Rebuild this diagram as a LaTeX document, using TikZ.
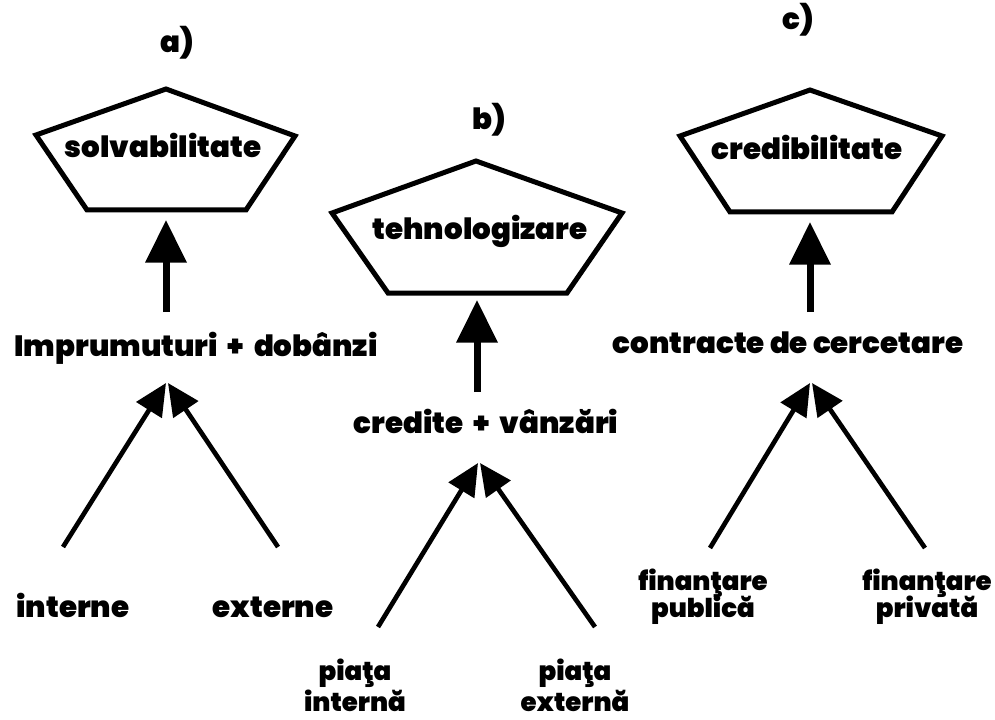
\documentclass[tikz,border=0pt]{standalone}
\usepackage{fontspec}
\setmainfont{Poppins}[BoldFont={Poppins Black}]
\usetikzlibrary{arrows.meta,positioning}
\tikzset{
  lbl/.style={font=\fontsize{22}{24}\selectfont\bfseries, inner sep=0pt, anchor=base, align=center},
  lbltwo/.style={lbl, font=\fontsize{19.5}{24}\selectfont\bfseries},
  pent/.style={line width=3.75pt, line join=miter},
  bigarrow/.style={line width=5.25pt, -{Triangle[width=30pt,length=32pt]}},
  varrow/.style={line width=3.5pt, -{Triangle[width=22pt,length=24pt]}},
}

\begin{document}
\begin{tikzpicture}[x=0.75pt,y=-0.75pt]
\useasboundingbox (0,0) rectangle (995,720);
\begin{scope}  % Case a)
\coordinate (A0) at (166,89);
\coordinate (A1) at (295,136);
\coordinate (A2) at (246,210);
\coordinate (A3) at (87,210);
\coordinate (A4) at (36,135);
\coordinate (AT) at (166,220);
\coordinate (AS) at (166,312);
\coordinate (AL) at (63,547);
\coordinate (AR) at (278,547);
\coordinate (AV1) at (166,383);
\coordinate (AV2) at (168,383);
\draw[pent] (A0)--(A1)--(A2)--(A3)--(A4)--cycle;
\node[lbl] (capa) at (177,53) {a)};
\node[lbl] (solv) at (163,158) {solvabilitate};
\node[lbl] (impr) at (196,356) {Imprumuturi \ + \ dobânzi};
\node[lbl] (intr) at (73,617) {interne};
\node[lbl] (extr) at (273,617) {externe};
\draw[bigarrow] (AS)--(AT);
\draw[varrow] (AL)--(AV1);
\draw[varrow] (AR)--(AV2);
\end{scope}
%
\begin{scope}  % Case b)
\coordinate (B0) at (476,161);
\coordinate (B1) at (622,213);
\coordinate (B2) at (567,293);
\coordinate (B3) at (388,293);
\coordinate (B4) at (332,213);
\coordinate (BT) at (477,300);
\coordinate (BS) at (477,392);
\coordinate (BL) at (378,627);
\coordinate (BR) at (595,627);
\coordinate (BV1) at (478,463);
\coordinate (BV2) at (480,463);
\draw[pent] (B0)--(B1)--(B2)--(B3)--(B4)--cycle;
\node[lbl] (capb) at (489,130) {b)};
\node[lbl] (tehn) at (480,240) {tehnologizare};
\node[lbl] (cred) at (486,433) {credite \ + \ vânzări};
\node[lbltwo] (pint) at (355,711) {piaţa\\[-1pt] internă};
\node[lbltwo] (pext) at (575,711) {piaţa\\[-1pt] externă};
\draw[bigarrow] (BS)--(BT);
\draw[varrow] (BL)--(BV1);
\draw[varrow] (BR)--(BV2);
\end{scope}
%
\begin{scope}  % Case c)
\coordinate (C0) at (810,90);
\coordinate (C1) at (942,136);
\coordinate (C2) at (892,212);
\coordinate (C3) at (730,212);
\coordinate (C4) at (680,136);
\coordinate (CT) at (810,222);
\coordinate (CS) at (810,312);
\coordinate (CL) at (710,548);
\coordinate (CR) at (925,548);
\coordinate (CV1) at (810,383);
\coordinate (CV2) at (812,383);
\draw[pent] (C0)--(C1)--(C2)--(C3)--(C4)--cycle;
\node[lbl] (capc) at (798,30) {c)};
\node[lbl] (crdb) at (807,160) {credibilitate};
\node[lbl] (cont) at (788,353) {contracte de cercetare};
\node[lbltwo] (fpub) at (703,617) {finanţare\\[-3.75pt] publică};
\node[lbltwo] (fpri) at (927,617) {finanţare\\[-3.75pt] privată};
\draw[bigarrow] (CS)--(CT);
\draw[varrow] (CL)--(CV1);
\draw[varrow] (CR)--(CV2);
\end{scope}
\end{tikzpicture}
\end{document}
